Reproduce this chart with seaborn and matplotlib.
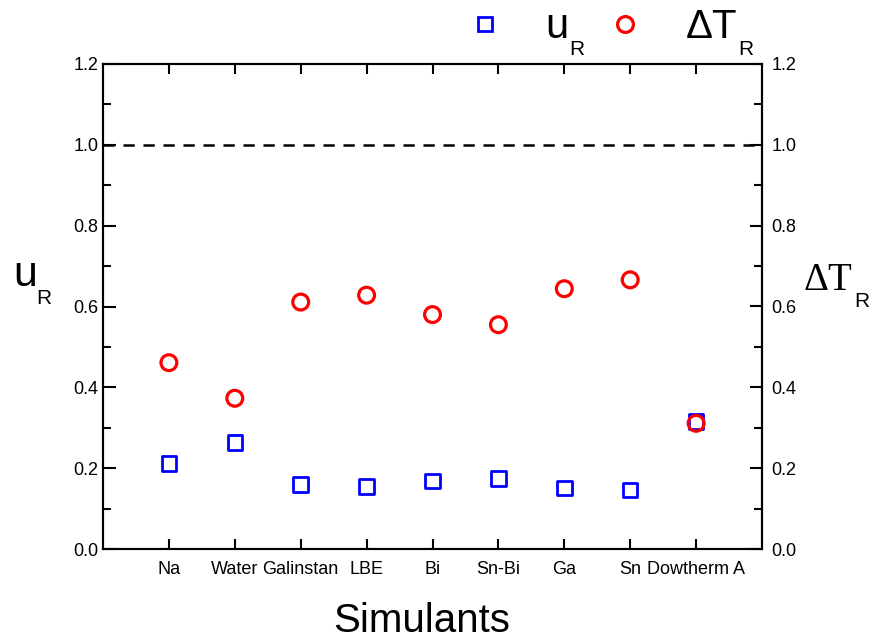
import matplotlib
matplotlib.use("Agg")
import matplotlib.pyplot as plt
from matplotlib.lines import Line2D
import numpy as np
import pandas as pd
import seaborn as sns

simulants = ['Na', 'Water', 'Galinstan', 'LBE', 'Bi', 'Sn-Bi', 'Ga', 'Sn', 'Dowtherm A']
u_r = [0.212, 0.263, 0.160, 0.154, 0.168, 0.175, 0.151, 0.146, 0.316]
dt_r = [0.461, 0.373, 0.611, 0.628, 0.580, 0.555, 0.644, 0.666, 0.311]
y_ticks = [0.0, 0.2, 0.4, 0.6, 0.8, 1.0, 1.2]

df = pd.DataFrame({'sim': simulants, 'u_r': u_r, 'dt_r': dt_r})

sns.set_style('ticks')
plt.rcParams['font.family'] = ['Liberation Sans', 'DejaVu Sans']
plt.rcParams['text.color'] = 'black'
plt.rcParams['xtick.color'] = 'black'
plt.rcParams['ytick.color'] = 'black'
plt.rcParams['axes.edgecolor'] = 'black'

W, H = 871, 641
fig = plt.figure(figsize=(W / 100, H / 100), dpi=100)
ax = fig.add_axes([103 / W, 1 - 549 / H, (762 - 103) / W, (549 - 64) / H])

blue = '#0000ff'
red = '#ff0000'
sns.scatterplot(data=df, x='sim', y='u_r', marker='s', s=110, facecolor='none',
                edgecolor=blue, linewidth=2.0, ax=ax, zorder=3, clip_on=False)
sns.scatterplot(data=df, x='sim', y='dt_r', marker='o', s=130, facecolor='none',
                edgecolor=red, linewidth=2.3, ax=ax, zorder=4, clip_on=False)

ax.axhline(1.0, color='black', lw=1.8, ls=(0, (4.5, 3.5)), zorder=2)

ax.set_xlim(-1, len(simulants))
ax.set_ylim(0, 1.2)
ax.set_yticks(y_ticks)
ax.set_yticklabels([f'{v:.1f}' for v in y_ticks])
ax.set_yticks(np.arange(0.1, 1.2, 0.2), minor=True)
ax.set_xticks(range(len(simulants)))
ax.set_xticklabels(simulants)
ax.set_xlabel('')
ax.set_ylabel('')

for s in ax.spines.values():
    s.set_linewidth(1.5)
    s.set_color('black')
ax.tick_params(axis='both', which='major', direction='in', labelsize=13, width=1.5,
               colors='black', top=True, right=False)
ax.tick_params(axis='y', which='major', length=9)
ax.tick_params(axis='y', which='minor', direction='in', length=6, width=1.5)
ax.tick_params(axis='x', which='major', length=7, pad=9)

ax2 = ax.twinx()
ax2.set_ylim(0, 1.2)
ax2.set_yticks(y_ticks)
ax2.set_yticklabels([f'{v:.1f}' for v in y_ticks])
ax2.set_yticks(np.arange(0.1, 1.2, 0.2), minor=True)
ax2.tick_params(axis='y', which='major', direction='in', length=9, width=1.5,
                labelsize=13, pad=7, colors='black')
ax2.tick_params(axis='y', which='minor', direction='in', length=6, width=1.5)
for s in ax2.spines.values():
    s.set_linewidth(1.5)

fig.text(422 / W, 1 - 632 / H, 'Simulants', fontsize=29, ha='center', va='baseline')

def px(x, y):
    return x / W, 1 - y / H

# left axis label
fig.text(*px(13, 286), 'u', fontsize=31, va='baseline')
fig.text(*px(36, 304), 'R', fontsize=15, va='baseline')
# right axis label
fig.text(*px(803, 290), '\u0394T', fontsize=28, va='baseline', family='Liberation Serif')
fig.text(*px(854, 307), 'R', fontsize=15, va='baseline')

# legend
fig.add_artist(Line2D([485 / W], [1 - 24 / H], marker='s', ms=10.5, mfc='none', mec=blue,
                      mew=2.0, transform=fig.transFigure))
fig.add_artist(Line2D([625 / W], [1 - 24 / H], marker='o', ms=11.4, mfc='none', mec=red,
                      mew=2.3, transform=fig.transFigure))
fig.text(*px(545, 38), 'u', fontsize=30, va='baseline')
fig.text(*px(569, 55), 'R', fontsize=15, va='baseline')
fig.text(*px(686, 38), '\u0394T', fontsize=29, va='baseline')
fig.text(*px(738, 55), 'R', fontsize=15, va='baseline')

fig.savefig('out.png', dpi=100)
